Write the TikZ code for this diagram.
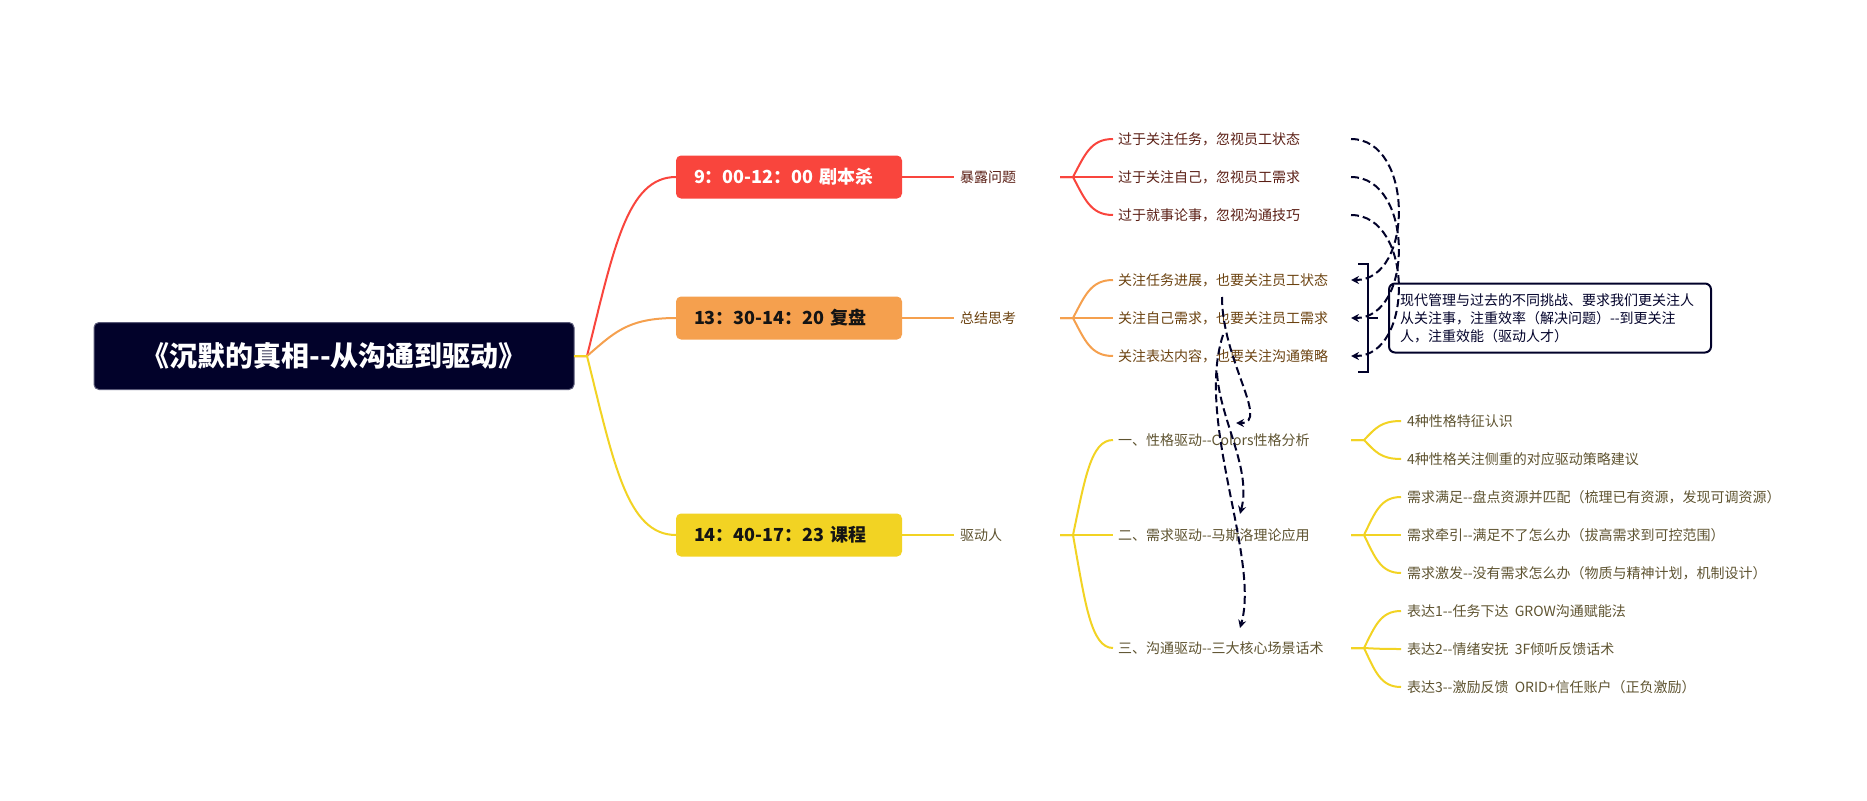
\documentclass[tikz,border=0pt]{standalone}
\usepackage{fontspec}
\setmainfont{Noto Sans CJK SC}
\usetikzlibrary{calc,arrows.meta}
\definecolor{navy}{RGB}{2,2,42}
\definecolor{rim}{RGB}{90,90,120}
\definecolor{ink}{RGB}{20,20,20}
\definecolor{cred}{RGB}{249,69,61}
\definecolor{corange}{RGB}{245,160,78}
\definecolor{cyellow}{RGB}{242,211,35}
\definecolor{tred}{RGB}{90,30,20}
\definecolor{torange}{RGB}{107,66,16}
\definecolor{tyellow}{RGB}{94,83,48}
\tikzset{
    every node/.style = {
        inner sep = 0pt,
        outer sep = 0pt,
        font = \fontsize{14}{18}\selectfont
    },
    title/.style = {
        fill = navy,
        draw = rim,
        line width = 1pt,
        rounded corners = 5pt,
        minimum width = 480pt,
        minimum height = 67pt,
        text = white,
        font = \fontsize{28}{32}\selectfont\bfseries
    },
    stage/.style = {
        anchor = west,
        rounded corners = 5pt,
        minimum height = 43pt,
        text width = 190pt,
        inner xsep = 18pt,
        align = left,
        font = \fontsize{18}{22}\selectfont\bfseries
    },
    topic/.style = {
        anchor = west,
        minimum height = 30pt,
        text width = 94pt,
        inner xsep = 6pt,
        align = left
    },
    leaf/.style = {
        anchor = west,
        minimum height = 34pt,
        text width = 228pt,
        inner xsep = 5pt,
        align = left
    },
    twig/.style = {
        anchor = west,
        minimum height = 30pt,
        inner xsep = 6pt,
        text = tyellow
    },
    notebox/.style = {
        anchor = west,
        draw = navy,
        line width = 2pt,
        rounded corners = 6pt,
        text width = 300pt,
        inner xsep = 11pt,
        minimum height = 69pt,
        align = left,
        text = navy
    },
    branch/.style = {
        line width = 2pt
    },
    relation/.style = {
        draw = navy,
        line width = 2pt,
        dash pattern = on 8pt off 4pt,
        -{Stealth[length = 8pt, width = 8pt]}
    },
    summary/.style = {
        draw = navy,
        line width = 2pt
    }
}

\begin{document}
\begin{tikzpicture}[x = 1pt, y = -1pt]
    \useasboundingbox (0,0) rectangle (1867,800);
    \node (root) at (334,356) [title]{《沉默的真相-{}-从沟通到驱动》};
    \node (b1) at (676,177) [stage, fill = cred, text = white]{9：00-12：00~剧本杀};
    \node (b2) at (676,318) [stage, fill = corange, text = ink]{13：30-14：20~复盘};
    \node (b3) at (676,535) [stage, fill = cyellow, text = ink]{14：40-17：23~课程};
    \node (s1) at (954,177) [topic, text = tred]{暴露问题};
    \node (s2) at (954,318) [topic, text = torange]{总结思考};
    \node (s3) at (954,535) [topic, text = tyellow]{驱动人};
    \node (r1) at (1113,139) [leaf, text = tred]{过于关注任务，忽视员工状态};
    \node (r2) at (1113,177) [leaf, text = tred]{过于关注自己，忽视员工需求};
    \node (r3) at (1113,215) [leaf, text = tred]{过于就事论事，忽视沟通技巧};
    \node (o1) at (1113,280) [leaf, text = torange]{关注任务进展，也要关注员工状态};
    \node (o2) at (1113,318) [leaf, text = torange]{关注自己需求，也要关注员工需求};
    \node (o3) at (1113,356) [leaf, text = torange]{关注表达内容，也要关注沟通策略};
    \node (y1) at (1113,440) [leaf, text = tyellow]{一、性格驱动-{}-Colors性格分析};
    \node (y2) at (1113,535) [leaf, text = tyellow]{二、需求驱动-{}-马斯洛理论应用};
    \node (y3) at (1113,648) [leaf, text = tyellow]{三、沟通驱动-{}-三大核心场景话术};
    \node (t1) at (1401,421) [twig]{4种性格特征认识};
    \node (t2) at (1401,459) [twig]{4种性格关注侧重的对应驱动策略建议};
    \node (t3) at (1401,497) [twig]{需求满足-{}-盘点资源并匹配（梳理已有资源，发现可调资源）};
    \node (t4) at (1401,535) [twig]{需求牵引-{}-满足不了怎么办（拔高需求到可控范围）};
    \node (t5) at (1401,573) [twig]{需求激发-{}-没有需求怎么办（物质与精神计划，机制设计）};
    \node (t6) at (1401,611) [twig]{表达1-{}-任务下达~~GROW沟通赋能法};
    \node (t7) at (1401,649) [twig]{表达2-{}-情绪安抚~~3F倾听反馈话术};
    \node (t8) at (1401,687) [twig]{表达3-{}-激励反馈~~ORID+信任账户（正负激励）};
    \node (note) at (1389,318) [notebox]{现代管理与过去的不同挑战、要求我们更关注人\\从关注事，注重效率（解决问题）-{}-到更关注\\人，注重效能（驱动人才）};
    \foreach \src/\dst/\col in {root/b1/cred, root/b2/corange, root/b3/cyellow,
            s1/r1/cred, s1/r2/cred, s1/r3/cred,
            s2/o1/corange, s2/o2/corange, s2/o3/corange,
            s3/y1/cyellow, s3/y2/cyellow, s3/y3/cyellow,
            y1/t1/cyellow, y1/t2/cyellow, y2/t3/cyellow, y2/t4/cyellow,
            y2/t5/cyellow, y3/t6/cyellow, y3/t7/cyellow, y3/t8/cyellow}
        \draw[branch, \col] let \p1 = ($(\src.east)+(13,0)$), \p2 = (\dst.west) in
            (\src.east) -- (\p1) .. controls ({\x1+0.3*(\x2-\x1)},{\y1+0.6*(\y2-\y1)})
            and ({\x2-0.55*(\x2-\x1)},\y2) .. (\p2);
    \foreach \src/\dst/\col in {b1/s1/cred, b2/s2/corange, b3/s3/cyellow}
        \draw[branch, \col] (\src.east) -- (\dst.west);
    \draw[relation] (r1.east) .. controls +(63,0) and +(63,0) .. (o1.east);
    \draw[relation] (r2.east) .. controls +(63,0) and +(63,0) .. (o2.east);
    \draw[relation] (r3.east) .. controls +(63,0) and +(63,0) .. (o3.east);
    \draw[relation] ($(o1.south)+(-10,0)$) .. controls +(0,63) and +(34,0) .. ($(y1.north)+(4,0)$);
    \draw[relation] ($(o3.south)+(-15,0)$) .. controls +(3,47) and +(12,-45) .. ($(y2.north)+(8,-4)$);
    \draw[relation] ($(o2.south)+(-9,0)$) .. controls +(-28,85) and +(20,-70) .. ($(y3.north)+(8,-3)$);
    \draw[summary] ($(o1.north east)+(7,1)$) -- ++(10,0) |- ($(o3.south east)+(7,-1)$);
    \draw[summary] ($(o2.east)+(17,0)$) -- ++(10,0);
\end{tikzpicture}
\end{document}
